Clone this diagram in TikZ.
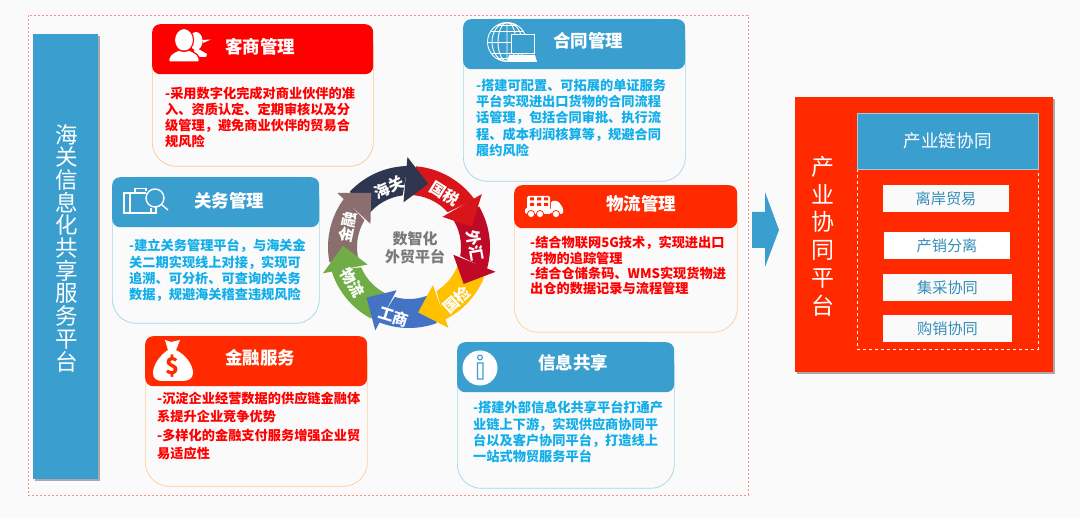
\documentclass[tikz,border=0pt]{standalone}
\usepackage{fontspec}
\setmainfont{Noto Sans CJK SC}
\usepackage{xcolor}
\definecolor{skyblue}{HTML}{3A9FCE}
\definecolor{signal}{HTML}{FF2A00}
\definecolor{pure}{HTML}{FF0000}
\definecolor{ink}{HTML}{12AEEA}
\definecolor{paper}{HTML}{FAFAFA}
\usetikzlibrary{shadows}

\begin{document}
\begin{tikzpicture}[x=1pt,y=-1pt,
    cardbody/.style={anchor=north west,fill=paper,line width=.7pt,rounded corners=24pt,inner sep=0pt},
    cardhead/.style={anchor=north west,rounded corners=8pt,inner sep=0pt,minimum height=50pt},
    cardtitle/.style={text=white,font=\fontsize{17.5}{20}\selectfont\bfseries},
    redtext/.style={anchor=north west,align=left,inner sep=0pt,text=pure,font=\fontsize{13.2}{16.2}\selectfont\bfseries},
    bluetext/.style={redtext,text=ink},
    tagbox/.style={fill=paper,inner sep=0pt,minimum height=27pt,text=skyblue!90!black,font=\fontsize{15.2}{18}\selectfont},
    stacked/.style={align=center,text=white},
    seglabel/.style={text=white,inner sep=0pt,font=\fontsize{15.5}{17}\selectfont\bfseries},
    softshadow/.style={drop shadow={shadow xshift=2pt,shadow yshift=-2pt,opacity=.32,fill=black}}]
  \useasboundingbox (0,0) rectangle (1080,518);
  \fill[paper] (0,0) rectangle (1080,518);
  \node[draw=red!45,dash pattern=on 2pt off 2pt,line width=.7pt,anchor=north west,inner sep=0pt,
    minimum width=720pt,minimum height=480pt] (frame) at (28,15) {};

  % left bar
  \node[fill=skyblue,softshadow,anchor=north west,inner sep=0pt,minimum width=65pt,minimum height=445pt] (haiguanbar) at (33,34) {};
  \node[stacked,font=\fontsize{22.5}{22.7}\selectfont] (haiguantext) at (67,248)
    {海\\关\\信\\息\\化\\共\\享\\服\\务\\平\\台};

  % kehu
  \node[cardbody,draw=orange!45,minimum width=221pt,minimum height=142pt] (kehu) at (152,24) {};
  \node[cardhead,fill=pure,minimum width=221pt] (kehuhead) at (152,24) {};
  \node[cardtitle] (kehutitle) at (260,47) {客商管理};
  \node[redtext] (kehutext) at (165,86.5) {-采用数字化完成对商业伙伴的准\\入、资质认定、定期审核以及分\\级管理，避免商业伙伴的贸易合\\规风险};
  \fill[white] (196,41) circle[x radius=6.5,y radius=9] (195,47) -- (207,54) -- (206,57) -- (200,57) -- (194,52) -- cycle;
  \fill[white] (202,40) -- (211,39.5) -- (203,43) -- cycle;
  \draw[fill=white,draw=pure,line width=1.2pt] (184,40) circle[x radius=9.5,y radius=11.5]
    (169,62) .. controls (168,55) and (172,53) .. (179,50) -- (189,50) .. controls (196,53) and (200,55) .. (199,62) -- cycle;
  \fill[white] (184,40) circle[x radius=8.5,y radius=10.5];

  % hetong
  \node[cardbody,draw=skyblue!45,minimum width=222pt,minimum height=162pt] (hetong) at (463,19) {};
  \node[cardhead,fill=skyblue,minimum width=222pt] (hetonghead) at (463,19) {};
  \node[cardtitle] (hetongtitle) at (588,41) {合同管理};
  \node[bluetext] (hetongtext) at (476,79) {-搭建可配置、可拓展的单证服务\\平台实现进出口货物的合同流程\\话管理，包括合同审批、执行流\\程、成本利润核算等，规避合同\\履约风险};
  \begin{scope}[white,line width=.9pt]
    \draw (507,42) circle[radius=19.5] (507,42) ellipse[x radius=9,y radius=19.5] (507,42) ellipse[x radius=15,y radius=19.5] (507,22.5) -- (507,61.5);
    \draw (487.5,42) -- (526.5,42) (491,31) -- (523,31) (491,53) -- (523,53) (497,25.5) -- (517,25.5) (497,58.5) -- (517,58.5);
    \draw[fill=skyblue] (511,34) rectangle (534,53);
    \fill (509,55) -- (535,55) -- (537,62) -- (507,62) -- cycle;
  \end{scope}

  % guanwu
  \node[cardbody,draw=skyblue!45,minimum width=207pt,minimum height=146pt] (guanwu) at (112,177) {};
  \node[cardhead,fill=skyblue,minimum width=207pt] (guanwuhead) at (112,177) {};
  \node[cardtitle] (guanwutitle) at (229,201) {关务管理};
  \node[bluetext] (guanwutext) at (129,239) {-建立关务管理平台，与海关金\\关二期实现线上对接，实现可\\追溯、可分析、可查询的关务\\数据，规避海关稽查违规风险};
  \begin{scope}[white,line width=1.4pt]
    \draw (146,193) -- (124,193) -- (124,213) -- (150,213) (130,193) -- (130,213);
    \draw (135,193) -- (135,188.5) -- (146,188.5) -- (146,191);
    \draw (155,198) circle[radius=9] (161.5,204.5) -- (168,210);
    \draw (151,208) -- (151,213) -- (156,213) -- (156,207);
  \end{scope}

  % jinrong
  \node[cardbody,draw=orange!40,minimum width=222pt,minimum height=150pt] (jinrong) at (145,336) {};
  \node[cardhead,fill=signal,minimum width=222pt] (jinronghead) at (145,336) {};
  \node[cardtitle] (jinrongtitle) at (260,358) {金融服务};
  \node[redtext,font=\fontsize{13.2}{18.3}\selectfont\bfseries] (jinrongtext) at (157,392) {-沉淀企业经营数据的供应链金融体\\系提升企业竞争优势\\-多样化的金融支付服务增强企业贸\\易适应性};
  \fill[white] (165,340) -- (171,342) -- (180,340) -- (176,350) .. controls (186,355) and (193,365) .. (193,373)
    .. controls (193,379) and (188,381) .. (182,381) -- (163,381) .. controls (157,381) and (153,379) .. (153,373)
    .. controls (153,365) and (160,355) .. (168,350) -- cycle;
  \node[text=signal,inner sep=0pt,font=\fontsize{23}{24}\selectfont\bfseries] (dollar) at (173,366) {\$};

  % wuliu
  \node[cardbody,draw=orange!40,minimum width=223pt,minimum height=147pt] (wuliu) at (514,185) {};
  \node[cardhead,fill=signal,minimum width=223pt,minimum height=43pt] (wuliuhead) at (514,185) {};
  \node[cardtitle] (wuliutitle) at (641,204) {物流管理};
  \node[redtext,font=\fontsize{13.2}{15.4}\selectfont\bfseries] (wuliutext) at (530,236) {-结合物联网5G技术，实现进出口\\货物的追踪管理\\-结合仓储条码、WMS实现货物进\\出仓的数据记录与流程管理};
  \fill[white,rounded corners=1.5pt] (527,196) rectangle (550,211) (551,201) -- (558,201) -- (563,208) -- (563,214) -- (551,214) -- cycle
    (525,208) rectangle (551,214);
  \foreach \wx in {531,540,556} {
    \draw[fill=white,draw=signal,line width=.8pt] (\wx,214) circle[radius=3.6];
  }
  \foreach \wx in {530,537,544} {
    \fill[signal] (\wx,197.5) rectangle +(4,3) (\wx,203) rectangle +(4,3);
  }

  % xinxi
  \node[cardbody,draw=skyblue!45,minimum width=217pt,minimum height=146pt] (xinxi) at (457,342) {};
  \node[cardhead,fill=skyblue,minimum width=217pt] (xinxihead) at (457,342) {};
  \node[cardtitle] (xinxititle) at (573,363) {信息共享};
  \node[bluetext] (xinxitext) at (473,401) {-搭建外部信息化共享平台打通产\\业链上下游，实现供应商协同平\\台以及客户协同平台，打造线上\\一站式物贸服务平台};
  \fill[white] (480,368) circle[radius=17.5];
  \draw[skyblue,line width=1.1pt] (480,357.5) circle[radius=2.4] (477.5,363) rectangle (483,379);

  % wheel, shafts first and heads on top
  \begin{scope}[shift={(409,247)},x=1pt,y=1pt]
    \foreach \tip/\prev/\hue in {73/125/2F3650,18/73/D81518,-34/18/BE0A26,-82/-34/FFC000,
        -130/-82/4472C4,179/230/70AD47,125/179/8B6F6F} {
      \definecolor{seghue}{HTML}{\hue}
      \fill[seghue] (\prev+12:81pt) arc[start angle=\prev+12,end angle=\tip+18,radius=81pt]
        -- (\tip+24:52pt) arc[start angle=\tip+24,end angle=\prev+17,radius=52pt] -- cycle;
    }
    \foreach \tip/\hue/\lab/\ang/\rad/\rot [count=\i] in {
        73/2F3650/海关/108.7/63/25,
        18/D81518/国税/56/64/-32,
        -34/BE0A26/外汇/1.5/66/-80,
        -82/FFC000/国检/-48/71/42,
        -130/4472C4/工商/-102.5/71/-17,
        179/70AD47/物流/212/67/-60,
        125/8B6F6F/金融/162/64/78} {
      \definecolor{seghue}{HTML}{\hue}
      \fill[seghue] (\tip+18:90pt) -- (\tip:66pt) -- (\tip+24:45pt) -- cycle;
      \node[seglabel,rotate=\rot] (seg\i) at (\ang:\rad pt) {\lab};
    }
    \node[align=center,text=black!52,inner sep=0pt,font=\fontsize{15}{18.5}\selectfont\bfseries] (wheelhub) at (6pt,-1pt) {数智化\\外贸平台};
  \end{scope}

  % right panel
  \fill[skyblue] (752,212) -- (765,212) -- (765,192) -- (779,230) -- (765,267) -- (765,248) -- (752,248) -- cycle;
  \node[fill=signal,softshadow,anchor=north west,inner sep=0pt,minimum width=258pt,minimum height=275pt] (chanye) at (795,97) {};
  \node[stacked,font=\fontsize{23}{27.7}\selectfont] (chanyetext) at (823,236) {产\\业\\协\\同\\平\\台};
  \node[draw=white,dashed,line width=.6pt,anchor=north west,inner sep=0pt,minimum width=181pt,minimum height=236pt] (chanyeinner) at (857,113) {};
  \node[fill=skyblue,draw=white!50!skyblue,anchor=north west,inner sep=0pt,minimum width=181pt,minimum height=56pt,
    text=white,font=\fontsize{17.6}{20}\selectfont] (chanyehead) at (857,113) {产业链协同};
  \node[tagbox,minimum width=126pt] (lian) at (946,199) {离岸贸易};
  \node[tagbox,fill=white,minimum width=126pt] (fenli) at (947,246) {产销分离};
  \node[tagbox,minimum width=129pt] (jicai) at (947.5,288) {集采协同};
  \node[tagbox,minimum width=129pt] (gouxiao) at (947.5,329) {购销协同};
\end{tikzpicture}
\end{document}
